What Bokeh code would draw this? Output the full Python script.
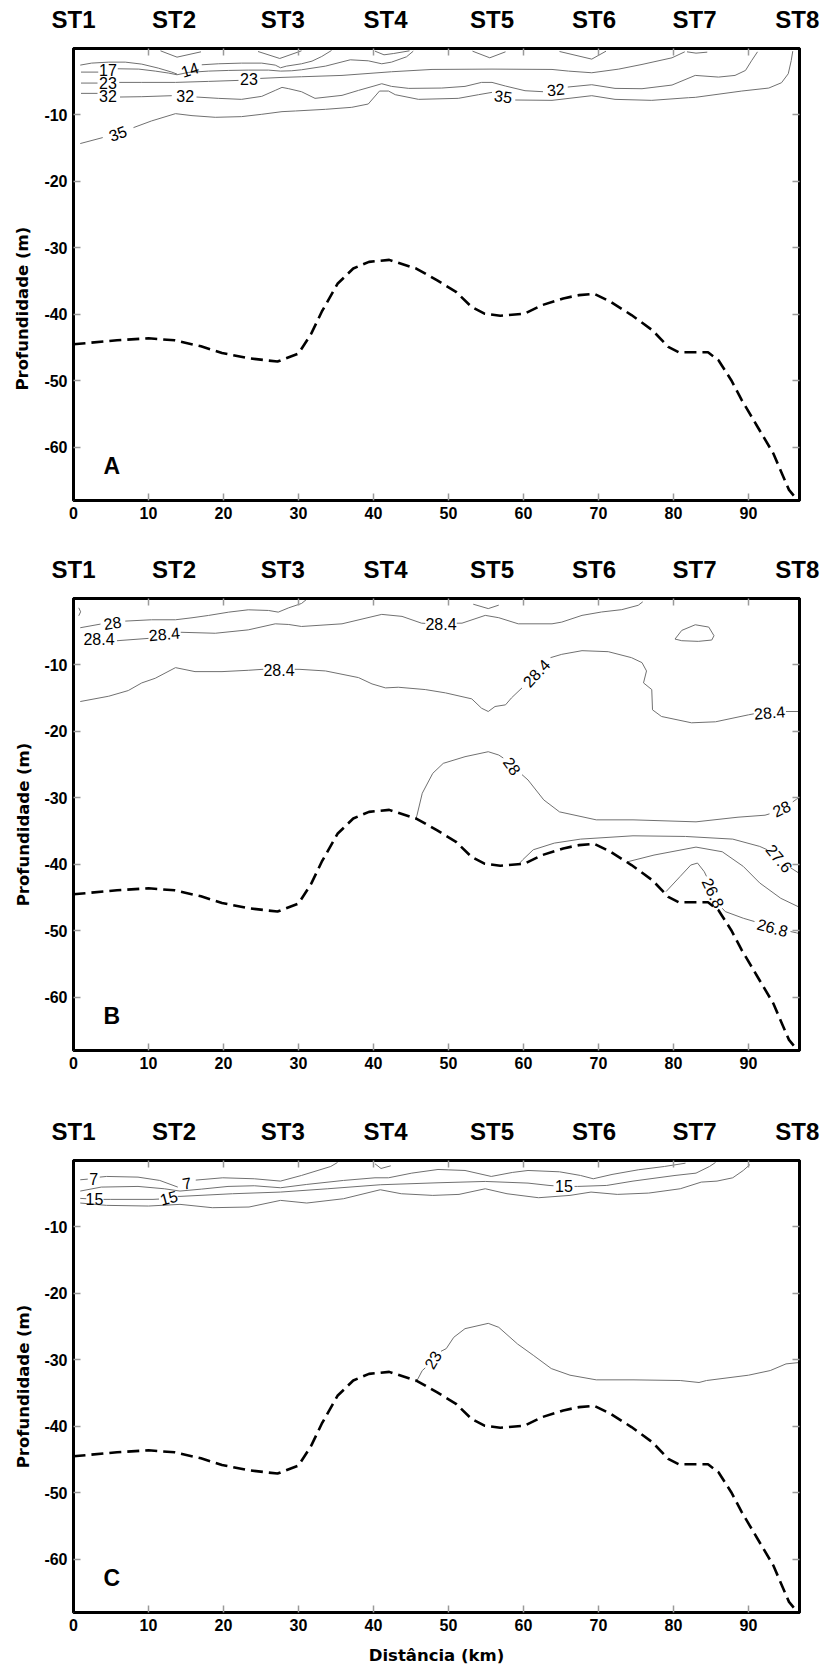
from bokeh.plotting import figure
from bokeh.layouts import column
from bokeh.models import Range1d, LinearAxis, FixedTicker, ColumnDataSource, Label, Title
from bokeh.core.properties import value
from bokeh.embed import file_html
from bokeh.resources import INLINE

nan = float("nan")

# ---------------- axes / stations ----------------
stations = [0, 13.4, 27.9, 41.6, 55.8, 69.4, 82.8, 96.5]
station_names = ["ST1", "ST2", "ST3", "ST4", "ST5", "ST6", "ST7", "ST8"]
x_ticks = [0, 10, 20, 30, 40, 50, 60, 70, 80, 90]
y_ticks = [-60, -50, -40, -30, -20, -10]
y_tick_labels = ["-60", "-50", "-40", "-30", "-20", "-10"]
panel_letters = ["A", "B", "C"]

# ---------------- bottom (bathymetry) ----------------
bottom_km = [0, 5.8, 10, 13.5, 17, 19.8, 23.3, 27.2, 30, 31.7, 33.1, 35.2, 37.3, 39.4, 42.1,
             45.7, 48.5, 51, 53.1, 54.8, 56.9, 60.1, 62.5, 65.3, 67.4, 69.4, 71.6, 74.4, 77.2,
             79.3, 80.7, 84.6, 86, 87.7, 89.1, 91.2, 93.3, 95.4, 96.5]
bottom_m = [-44.5, -43.9, -43.6, -43.9, -44.8, -45.8, -46.6, -47.1, -45.9, -42.9, -39.6, -35.4,
            -33.1, -32.1, -31.8, -33.1, -34.9, -36.6, -38.9, -39.9, -40.2, -39.9, -38.6, -37.6,
            -37.1, -36.9, -38.1, -40.1, -42.4, -44.9, -45.7, -45.7, -46.9, -49.9, -52.9, -56.9,
            -60.9, -66.4, -67.9]

# ---------------- panel A (contours) ----------------
a14_x = [0.9, 2.4, 4.7, 6.9, 9.1, 11.3, 13.1, 13.8, nan, 17.1, 19.3, 22.4, 25.1, 26.9, 27.6, 28.4, 30.4, 31.8, 33.1, 34.4]
a14_y = [-2.5, -2.2, -2.05, -2.05, -2.35, -2.95, -3.55, -3.85, nan, -2.45, -2.3, -2.2, -2.2, -2.5, -2.9, -2.65, -2.3, -1.9, -1.2, -0.3]
a17_x = [1.0, 3.3, nan, 5.9, 8.7, 10.9, 12.7, 13.8, 15.3, 18.0, 20.7, 23.3, 26.0, 27.6, 29.1, 30.4, 33.6, 36.9, 39.3, 41.1, 42.4, 44.4, 45.3]
a17_y = [-3.55, -3.55, nan, -3.05, -3.1, -3.4, -3.7, -3.95, -3.6, -3.4, -3.3, -3.25, -3.25, -3.4, -3.35, -3.2, -2.65, -1.7, -1.85, -2.3, -2.05, -1.25, -0.4]
a23_x = [1.0, 3.2, nan, 6.1, 9.1, 13.6, 18.0, 22.0, nan, 24.9, 27.8, 30.4, 35.8, 42.4, 47.8, 55.8, 63.8, 66.0, 69.1, 72.7, 75.8, 79.8, 81.5]
a23_y = [-5.2, -5.2, nan, -5.1, -5.1, -5.1, -4.95, -4.8, nan, -4.5, -4.35, -4.25, -4.05, -3.5, -3.15, -3.1, -3.15, -3.4, -3.65, -3.1, -2.4, -1.4, -0.5]
a32_x = [1.0, 3.2, nan, 6.2, 9.1, 13.1, nan, 16.4, 19.3, 22.4, 25.1, 26.9, 27.8, 28.7, 30.4, 32.2, 35.8, 38.0, 40.2, 41.1,
         42.4, 44.7, 49.1, 52.2, 54.4, 55.8, 57.6, 60.2, 62.6, nan, 65.9, 69.1, 72.2, 75.8, 79.8, 82.9, 86.0, 88.2, 89.6, 90.4, 91.2]
a32_y = [-6.75, -6.75, nan, -7.3, -7.25, -7.1, nan, -7.3, -7.5, -7.65, -7.2, -6.3, -5.85, -6.05, -6.5, -7.5, -7.05, -6.3, -5.6, -5.3,
         -5.7, -6.0, -5.95, -5.7, -5.1, -5.1, -5.65, -6.35, -6.5, nan, -5.8, -5.45, -6.0, -6.05, -5.5, -4.05, -4.3, -4.05, -3.3, -1.85, -0.5]
a35_x = [0.9, 3.9, nan, 8.0, 10.4, 13.6, 15.8, 18.9, 22.4, 25.1, 27.8, 29.6, 33.6, 37.1, 39.3, 40.8, 42.0, 42.9, 46.0, 51.3, 54.0, 55.8,
         nan, 58.9, 63.8, 69.1, 72.2, 77.1, 82.0, 82.9, 89.1, 92.7, 94.4, 95.3, 95.7, 95.9]
a35_y = [-14.3, -13.4, nan, -11.9, -10.9, -9.8, -10.1, -10.35, -10.25, -9.9, -9.5, -9.4, -9.15, -8.85, -8.35, -6.4, -6.4, -6.95, -7.65, -7.5, -6.95, -6.6,
         nan, -7.75, -7.8, -7.1, -7.65, -7.8, -7.4, -7.35, -6.4, -5.95, -5.15, -3.8, -1.8, -0.4]
av2_x = [11.6, 13.8, 17.0]
av2_y = [-0.35, -1.3, -0.5]
av3_x = [24.6, 27.5, 30.4]
av3_y = [-0.45, -1.5, -0.35]
av4_x = [40.2, 41.4, 42.7, 44.8]
av4_y = [-0.4, -0.95, -0.75, -0.35]
av5_x = [53.2, 55.5, 57.6]
av5_y = [-0.4, -1.4, -0.5]
av6_x = [64.8, 69.1, 71.0]
av6_y = [-0.45, -1.6, -0.4]
av7_x = [81.8, 83.0, 84.5]
av7_y = [-0.5, -0.7, -0.55]

a_lab_text = ["17", "14", "23", "23", "32", "32", "32", "35", "35"]
a_lab_x = [4.6, 15.5, 4.6, 23.4, 4.6, 14.9, 64.3, 5.9, 57.3]
a_lab_y = [-3.2, -3.15, -5.15, -4.65, -7.15, -7.2, -6.15, -12.75, -7.2]
a_lab_angle = [0, 18, 0, 0, 0, 0, 5, 20, -8]

# ---------------- panel B (contours) ----------------
b28top_x = [0.9, 3.6, nan, 6.9, 10.4, 13.6, 15.8, 18.0, 20.7, 23.3, 26.0, 27.3, 28.7, 30.4, 31.0]
b28top_y = [-4.4, -3.85, nan, -3.4, -3.2, -3.2, -2.9, -2.55, -2.05, -1.7, -1.8, -2.05, -1.4, -0.75, -0.2]
b284a_x = [5.8, 10.0, nan, 14.3, 18.9, 23.3, 26.9, 28.7, 30.4, 35.8, 41.1, 43.8, 46.4, 46.9, nan, 51.1, 51.8, 54.9, 56.7, 59.3,
           63.8, 65.1, 67.8, 70.4, 73.1, 75.3, 75.9]
b284a_y = [-6.35, -6.0, nan, -5.08, -5.23, -4.72, -3.81, -3.91, -4.21, -3.81, -2.39, -2.69, -3.71, -3.75, nan, -3.72, -3.71, -2.54, -2.89, -3.81,
           -3.81, -3.55, -2.54, -2.03, -1.68, -1.02, -0.5]
b284b_x = [0.9, 4.7, 7.3, 9.1, 10.9, 13.6, 16.2, 19.8, 23.3, 25.3, nan, 29.5, 30.2, 33.6, 38.0, 39.8, 41.6, 43.3, 46.9, 49.6,
           53.1, 54.4, 55.3, 56.2, 57.6, 58.4, 59.8, nan, 63.6, 65.1, 67.8, 71.3, 74.4, 75.8, 76.4, 76.0, 77.1, 77.2, 78.4,
           82.4, 85.6, 90.0, 90.7, nan, 95.0, 96.7]
b284b_y = [-15.5, -14.7, -13.85, -12.7, -12.0, -10.4, -11.0, -11.0, -10.8, -10.65, nan, -10.65, -10.66, -10.9, -11.9, -12.85, -13.45, -13.35, -13.7, -14.2,
           -15.1, -16.5, -17.0, -16.25, -16.0, -14.95, -13.45, nan, -8.9, -8.4, -7.85, -8.0, -8.9, -9.65, -10.9, -12.7, -13.7, -16.75, -17.75,
           -18.7, -18.55, -17.5, -17.35, nan, -17.0, -17.0]
bloop_x = [80.2, 81.1, 82.9, 84.7, 85.4, 85.1, 83.3, 81.1, 80.2]
bloop_y = [-6.1, -4.8, -3.95, -4.3, -5.6, -6.25, -6.45, -6.35, -6.1]
bv5_x = [53.3, 55.3, 56.7]
bv5_y = [-0.86, -1.52, -1.0]
barc_x = [0.7, 0.95, 0.7]
barc_y = [-1.4, -2.0, -2.6]
b28low_x = [45.6, 45.8, 46.5, 47.9, 49.3, 52.2, 55.3, 56.7, 57.3, nan, 59.8, 60.6, 62.7, 64.8, 69.7, 74.6, 83.0, 88.6, 92.2, 92.8,
            nan, 95.9, 96.4, 96.7]
b28low_y = [-33.3, -32.6, -29.3, -26.3, -24.8, -23.8, -23.05, -23.55, -24.0, nan, -26.5, -27.3, -30.3, -32.1, -33.3, -33.3, -33.6, -32.9, -32.6, -32.4,
            nan, -30.6, -30.2, -30.0]
b276_x = [59.5, 59.9, 61.3, 64.1, 67.6, 74.6, 81.6, 87.9, 91.5, 92.5, nan, 95.6, 96.7]
b276_y = [-39.8, -39.3, -37.8, -36.8, -36.2, -35.7, -35.8, -36.2, -37.3, -37.8, nan, -40.5, -41.3]
b272_x = [73.9, 77.4, 83.0, 86.5, 89.3, 91.5, 94.3, 96.7]
b272_y = [-39.6, -38.6, -37.4, -38.1, -40.3, -42.8, -45.1, -46.4]
b268_x = [79.0, 80.9, 82.3, 83.2, 84.1, 84.4, nan, 86.5, 86.9, 89.3, 90.8, nan, 95.6, 96.4, 96.7]
b268_y = [-44.1, -41.8, -40.1, -39.8, -41.1, -41.8, nan, -46.6, -47.1, -48.1, -48.6, nan, -50.1, -50.3, -50.4]

b_lab_text = ["28", "28.4", "28.4", "28.4", "28.4", "28.4", "28.4", "28", "28", "27.6", "26.8", "26.8"]
b_lab_x = [5.2, 3.4, 12.1, 49.0, 27.4, 61.7, 92.8, 58.5, 94.4, 94.1, 85.3, 93.2]
b_lab_y = [-3.65, -6.1, -5.33, -3.8, -10.8, -11.2, -17.15, -25.2, -31.6, -39.1, -44.3, -49.5]
b_lab_angle = [8, 0, 5, 0, 0, 47, 5, -55, 25, -50, -65, -15]

# ---------------- panel C (contours) ----------------
c7_x = [0.9, 1.9, nan, 3.5, 4.4, 8.6, 11.5, 13.9, nan, 16.3, 19.9, 24.1, 27.6, 30.4, 34.3, 35.2]
c7_y = [-2.9, -2.8, nan, -2.5, -2.4, -2.5, -3.0, -4.0, nan, -2.95, -2.6, -2.75, -3.1, -2.25, -0.9, -0.3]
cb_x = [0.9, 3.7, 8.6, 12.1, 14.2, 17.1, 20.6, 24.1, 27.6, 31.1, 36.0, 40.2, 42.0, 45.1, 48.6, 52.2, 55.7, 58.5, 60.6, 64.8,
        67.6, 69.3, 71.8, 75.3, 78.8, 81.6]
cb_y = [-4.6, -4.0, -3.9, -4.25, -4.6, -4.3, -3.9, -3.8, -4.1, -3.6, -3.0, -2.6, -2.6, -1.9, -1.35, -1.5, -2.4, -1.8, -1.5, -1.7,
        -2.25, -2.75, -2.1, -1.4, -0.9, -0.4]
c15_x = [0.9, 1.7, nan, 4.0, 4.9, 10.6, 11.4, nan, 13.9, 14.2, 21.2, 27.6, 33.9, 40.9, 48.6, 54.9, 60.6, 63.4, 64.0, nan,
         66.8, 67.2, 71.1, 74.6, 80.2, 83.0, 84.8, 85.6]
c15_y = [-5.7, -5.75, nan, -5.85, -5.85, -5.85, -5.8, nan, -5.4, -5.4, -5.0, -4.75, -4.25, -3.65, -3.35, -3.15, -3.4, -3.75, -3.8, nan,
         -3.9, -3.9, -3.75, -3.1, -2.25, -1.9, -0.9, -0.3]
cd_x = [0.9, 4.4, 10.0, 14.2, 18.5, 23.4, 27.6, 31.1, 36.0, 40.9, 43.7, 47.9, 51.4, 54.9, 57.8, 62.0, 66.2, 69.0, 72.5, 76.7,
        80.9, 83.7, 85.8, 87.9, 89.3, 90.2]
cd_y = [-6.4, -6.75, -6.85, -6.6, -7.1, -7.0, -6.0, -6.4, -5.75, -4.4, -5.0, -5.25, -5.1, -4.25, -5.0, -5.6, -5.25, -4.75, -5.1, -4.9,
        -4.25, -3.25, -3.1, -2.6, -1.5, -0.6]
cv4_x = [40.2, 41.0, 42.3]
cv4_y = [-0.5, -1.2, -0.8]
c23_x = [45.6, 45.8, 46.5, 46.9, nan, 49.0, 49.7, 50.7, 52.2, 55.3, 56.7, 59.2, 61.3, 63.7, 66.2, 69.7, 74.6, 80.9, 83.4, 84.4,
         90.0, 92.9, 95.0, 96.7]
c23_y = [-33.3, -33.1, -31.6, -31.2, nan, -28.7, -28.3, -26.6, -25.3, -24.5, -25.1, -27.6, -29.3, -31.3, -32.3, -33.0, -33.0, -33.1, -33.4, -33.1,
         -32.3, -31.6, -30.6, -30.4]

c_lab_text = ["7", "7", "15", "15", "15", "23"]
c_lab_x = [2.7, 15.1, 2.8, 12.7, 65.4, 47.9]
c_lab_y = [-2.75, -3.4, -5.75, -5.6, -3.85, -30.0]
c_lab_angle = [0, 10, 0, 15, 0, 60]

# ---------------- styles ----------------
LINE_COLOR = "#707070"
TICK_COLOR = "#9a9a9a"
FONT = "Liberation Sans"
TITLE_FONT = "DejaVu Sans"
Y_TITLE = "Profundidade (m)"


def style_axis(ax):
    ax.axis_line_color = "black"
    ax.axis_line_width = 3
    ax.major_tick_in = 7
    ax.major_tick_out = 0
    ax.major_tick_line_color = TICK_COLOR
    ax.major_tick_line_width = 1.5
    ax.minor_tick_line_color = None
    ax.major_label_text_font = FONT
    ax.major_label_text_font_style = "bold"
    ax.major_label_text_font_size = "16px"
    ax.major_label_text_color = "black"
    ax.major_label_standoff = 6


def make_panel(lines, lab_x, lab_y, lab_t, lab_a, letter, top, bottom, y_title_mode, x_title):
    p = figure(frame_width=726, frame_height=452,
               x_range=Range1d(0, 96.8), y_range=Range1d(-68, 0),
               output_backend="svg", toolbar_location=None,
               min_border_left=72, min_border_right=23,
               min_border_top=top, min_border_bottom=bottom,
               background_fill_color="white", border_fill_color="white")
    p.grid.visible = False
    p.outline_line_color = "black"
    p.outline_line_width = 3

    for xs, ys in lines:
        p.line(xs, ys, line_color=LINE_COLOR, line_width=1)

    p.line(bottom_km, bottom_m, line_color="black", line_width=2.6, line_dash="12 6")

    src = ColumnDataSource(dict(x=lab_x, y=lab_y, t=lab_t, a=lab_a))
    p.text(x="x", y="y", text="t", angle="a", angle_units="deg", source=src,
           text_font=value(FONT), text_font_size="16px", text_align="center",
           text_baseline="middle", text_color="black")

    p.add_layout(Label(x=5.1, y=-62.8, text=letter, text_font=FONT, text_font_style="bold",
                       text_font_size="23px", text_align="center", text_baseline="middle",
                       text_color="black"))

    # bottom axis
    xa = p.xaxis[0]
    xa.ticker = FixedTicker(ticks=x_ticks)
    style_axis(xa)
    if x_title:
        xa.axis_label = x_title
        xa.axis_label_text_font = TITLE_FONT
        xa.axis_label_text_font_style = "bold"
        xa.axis_label_text_font_size = "16.5px"
        xa.axis_label_text_color = "black"
        xa.axis_label_standoff = 12

    # left axis
    ya = p.yaxis[0]
    ya.ticker = FixedTicker(ticks=y_ticks)
    ya.major_label_overrides = {t: s for t, s in zip(y_ticks, y_tick_labels)}
    style_axis(ya)
    if y_title_mode == "axis":
        ya.axis_label = Y_TITLE
        ya.axis_label_text_font = TITLE_FONT
        ya.axis_label_text_font_style = "bold"
        ya.axis_label_text_font_size = "16.5px"
        ya.axis_label_text_color = "black"
        ya.axis_label_standoff = 8
    else:
        # title placed lower than the frame centre, as in the original
        p.add_layout(Title(text=Y_TITLE, align="left", offset=110, standoff=20,
                           text_font=TITLE_FONT, text_font_style="bold",
                           text_font_size="16.5px", text_color="black"), "left")

    # top axis: station names + 10 km inner ticks
    ta = LinearAxis(ticker=FixedTicker(ticks=stations, minor_ticks=x_ticks[1:]),
                    major_label_overrides={s: n for s, n in zip(stations, station_names)})
    ta.axis_line_color = "black"
    ta.axis_line_width = 3
    ta.major_tick_line_color = None
    ta.minor_tick_in = 7
    ta.minor_tick_out = 0
    ta.minor_tick_line_color = TICK_COLOR
    ta.minor_tick_line_width = 1.5
    ta.major_label_text_font = FONT
    ta.major_label_text_font_style = "bold"
    ta.major_label_text_font_size = "24px"
    ta.major_label_text_color = "black"
    ta.major_label_standoff = 10
    p.add_layout(ta, "above")

    # right axis: inner ticks only
    ra = LinearAxis(ticker=FixedTicker(ticks=y_ticks),
                    major_label_overrides={t: "" for t in y_ticks})
    style_axis(ra)
    ra.major_label_standoff = 0
    p.add_layout(ra, "right")
    return p


pA = make_panel(
    [(a14_x, a14_y), (a17_x, a17_y), (a23_x, a23_y), (a32_x, a32_y), (a35_x, a35_y),
     (av2_x, av2_y), (av3_x, av3_y), (av4_x, av4_y), (av5_x, av5_y), (av6_x, av6_y), (av7_x, av7_y)],
    a_lab_x, a_lab_y, a_lab_text, a_lab_angle, panel_letters[0], 48, 45, "title", None)

pB = make_panel(
    [(b28top_x, b28top_y), (b284a_x, b284a_y), (b284b_x, b284b_y), (bloop_x, bloop_y), (bv5_x, bv5_y),
     (barc_x, barc_y), (b28low_x, b28low_y), (b276_x, b276_y), (b272_x, b272_y), (b268_x, b268_y)],
    b_lab_x, b_lab_y, b_lab_text, b_lab_angle, panel_letters[1], 53, 55, "axis", None)

pC = make_panel(
    [(c7_x, c7_y), (cb_x, cb_y), (c15_x, c15_y), (cd_x, cd_y), (cv4_x, cv4_y), (c23_x, c23_y)],
    c_lab_x, c_lab_y, c_lab_text, c_lab_angle, panel_letters[2], 55, 58, "axis", "Distância (km)")

layout = column(pA, pB, pC, spacing=0)
open("out.html", "w").write(file_html(layout, INLINE))
